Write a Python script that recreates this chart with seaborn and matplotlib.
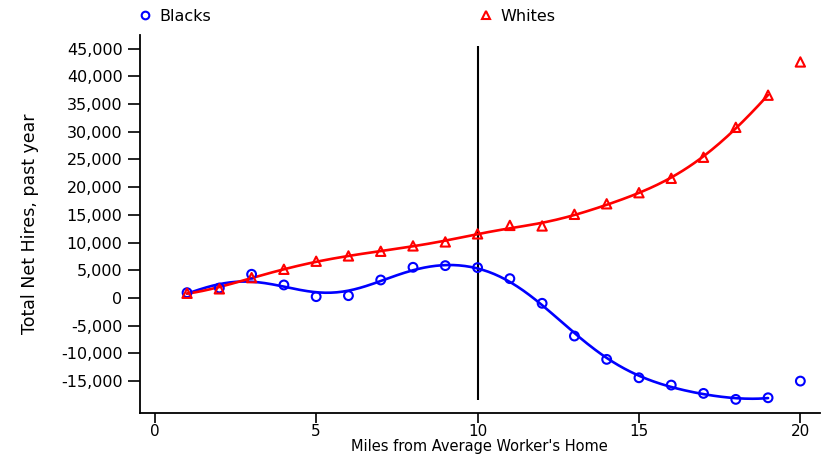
import numpy as np
import pandas as pd
import matplotlib
matplotlib.use("Agg")
import matplotlib.pyplot as plt
import seaborn as sns
from matplotlib.lines import Line2D

# Distance bands (miles) and net hires
miles = list(range(1, 21))
blacks = [960, 1800, 4280, 2350, 240, 420, 3250, 5540, 5840, 5480,
          3490, -960, -6870, -11080, -14400, -15720, -17220, -18300, -18010, -15000]
whites = [850, 1650, 3670, 5180, 6630, 7590, 8430, 9400, 10120, 11570,
          13100, 13000, 15100, 17000, 19000, 21600, 25400, 30800, 36600, 42600]
fit_max_mile = 19   # smoothed curves stop at 19 miles
cutoff_mile = 10


def local_smooth(x, y, grid, h):
    # kernel-weighted local quadratic fit
    x = np.asarray(x, float)
    y = np.asarray(y, float)
    out = []
    for g in grid:
        w = np.sqrt(np.exp(-0.5 * ((x - g) / h) ** 2))
        X = np.vstack([np.ones_like(x), x - g, (x - g) ** 2]).T
        beta = np.linalg.lstsq(X * w[:, None], y * w, rcond=None)[0]
        out.append(beta[0])
    return np.array(out)


sns.set_style("ticks")
plt.rcParams['font.family'] = ['DejaVu Sans']
plt.rcParams['text.color'] = 'black'
plt.rcParams['axes.labelcolor'] = 'black'

df = pd.DataFrame({'miles': miles, 'Blacks': blacks, 'Whites': whites})
fit = df[df['miles'] <= fit_max_mile]
grid = np.linspace(fit['miles'].min(), fit['miles'].max(), 300)
curves = pd.DataFrame({
    'miles': grid,
    'Blacks': local_smooth(fit['miles'], fit['Blacks'], grid, 1.5),
    'Whites': local_smooth(fit['miles'], fit['Whites'], grid, 1.4),
})

fig = plt.figure(figsize=(8.28, 4.58), dpi=100)
ax = fig.add_axes([0.169, 0.098, 0.821, 0.826])

# Smoothed fits
sns.lineplot(data=curves, x='miles', y='Blacks', color='blue', linewidth=1.9, ax=ax)
sns.lineplot(data=curves, x='miles', y='Whites', color='red', linewidth=1.9, ax=ax)

# Observed points
sns.scatterplot(data=df, x='miles', y='Blacks', marker='o', s=40,
                facecolors='none', edgecolor='blue', linewidth=1.5, ax=ax, zorder=3)
sns.scatterplot(data=df, x='miles', y='Whites', marker='^', s=45,
                facecolors='none', edgecolor='red', linewidth=1.5, ax=ax, zorder=3)

ax.vlines(cutoff_mile, -18500, 45400, color='black', linewidth=1.5, zorder=1)

ax.set_xlim(-0.46, 20.6)
ax.set_ylim(-20780, 47500)
ax.set_xticks([0, 5, 10, 15, 20])
ax.set_yticks(range(-15000, 45001, 5000))
ax.yaxis.set_major_formatter(matplotlib.ticker.FuncFormatter(lambda v, p: f"{int(v):,}"))
ax.tick_params(axis='both', labelsize=11.5, length=8.5, width=1.2, colors='black', pad=4)
ax.tick_params(axis='x', pad=0, length=7.5, labelsize=11)
for s in ['left', 'bottom']:
    ax.spines[s].set_linewidth(1.3)
    ax.spines[s].set_color('black')
sns.despine(ax=ax)

ax.set_xlabel("Miles from Average Worker's Home", fontsize=10.5, labelpad=0)
ax.set_ylabel("Total Net Hires, past year", fontsize=12.5, labelpad=16)

handles = [
    Line2D([], [], marker='o', linestyle='none', markerfacecolor='none',
           markeredgecolor='blue', markeredgewidth=1.5, markersize=5.5, label='Blacks'),
    Line2D([], [], marker='^', linestyle='none', markerfacecolor='none',
           markeredgecolor='red', markeredgewidth=1.5, markersize=6, label='Whites'),
]
fig.legend(handles=handles, ncol=2, loc='center left', bbox_to_anchor=(0.158, 0.965),
           frameon=False, fontsize=11.5, columnspacing=16.7, handletextpad=0.4,
           handlelength=1.0, borderaxespad=0)

fig.savefig('out.png', dpi=100)
